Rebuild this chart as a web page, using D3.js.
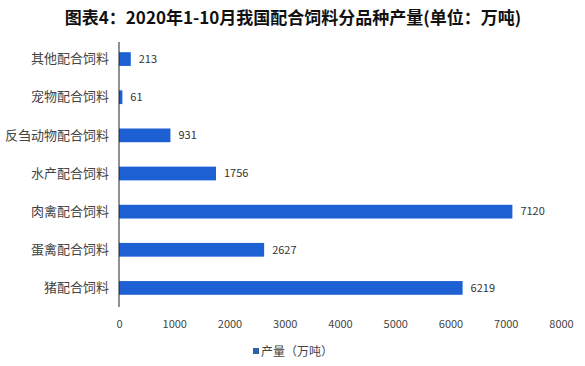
<!DOCTYPE html>
<html lang="zh">
<head>
<meta charset="UTF-8">
<title>配合饲料分品种产量</title>
<script src="https://cdn.jsdelivr.net/npm/d3@7/dist/d3.min.js"></script>
<style>
  body { margin: 0; background: #fff; }
  text { font-family: "Noto Sans CJK SC", "Microsoft YaHei", sans-serif; }
</style>
</head>
<body>
<svg id="chart"></svg>
<script>
// categories top to bottom
var categories = ["其他配合饲料", "宠物配合饲料", "反刍动物配合饲料", "水产配合饲料", "肉禽配合饲料", "蛋禽配合饲料", "猪配合饲料"];
var values = [213, 61, 931, 1756, 7120, 2627, 6219];
var xTicks = [0, 1000, 2000, 3000, 4000, 5000, 6000, 7000, 8000];
var title = "图表4：2020年1-10月我国配合饲料分品种产量(单位：万吨)";
var legendLabel = "产量（万吨）";

var width = 585, height = 366;
var svg = d3.select("#chart").attr("width", width).attr("height", height);

var margin = {left: 119, right: 24, top: 40, bottom: 59};

var x = d3.scaleLinear().domain([0, 8000]).range([margin.left, width - margin.right]);
var y = d3.scaleBand().domain(categories).range([margin.top, height - margin.bottom]).paddingInner(0.64).paddingOuter(0.32);

// title
svg.append("text")
    .attr("x", 293).attr("y", 24)
    .attr("text-anchor", "middle")
    .attr("font-size", 17).attr("font-weight", "bold")
    .attr("fill", "#111")
    .text(title);

// bars
svg.append("g").selectAll("rect")
    .data(values)
    .enter().append("rect")
    .attr("x", x(0))
    .attr("y", function(d, i){ return y(categories[i]); })
    .attr("width", function(d){ return x(d) - x(0); })
    .attr("height", y.bandwidth())
    .attr("fill", "#1c60d4");

// value labels
svg.append("g").selectAll("text")
    .data(values)
    .enter().append("text")
    .attr("x", function(d){ return x(d) + 8; })
    .attr("y", function(d, i){ return y(categories[i]) + y.bandwidth()/2; })
    .attr("dy", "0.35em")
    .attr("font-size", 11)
    .attr("fill", "#333")
    .text(function(d){ return d; });

// category axis
var yAxis = svg.append("g")
    .attr("transform", "translate(" + x(0) + ",0)")
    .call(d3.axisLeft(y).tickSize(0).tickPadding(10));
yAxis.select(".domain").attr("stroke", "#222").attr("d", "M0," + (margin.top + 2) + "V" + (height - margin.bottom));
yAxis.selectAll("text").attr("font-size", 13).attr("fill", "#444");

// value axis (labels only)
var xAxis = svg.append("g")
    .attr("transform", "translate(0," + (height - margin.bottom) + ")")
    .call(d3.axisBottom(x).tickValues(xTicks).tickFormat(d3.format("d")).tickSize(0).tickPadding(13));
xAxis.select(".domain").remove();
xAxis.selectAll("text").attr("font-size", 11).attr("fill", "#444");

// legend
var legend = svg.append("g").attr("transform", "translate(253,352)");
legend.append("rect").attr("x", 0).attr("y", -4).attr("width", 6).attr("height", 6).attr("fill", "#2e62a8");
legend.append("text").attr("x", 8).attr("y", 0).attr("dy", "0.35em")
    .attr("font-size", 12).attr("fill", "#444").text(legendLabel);
</script>
</body>
</html>
